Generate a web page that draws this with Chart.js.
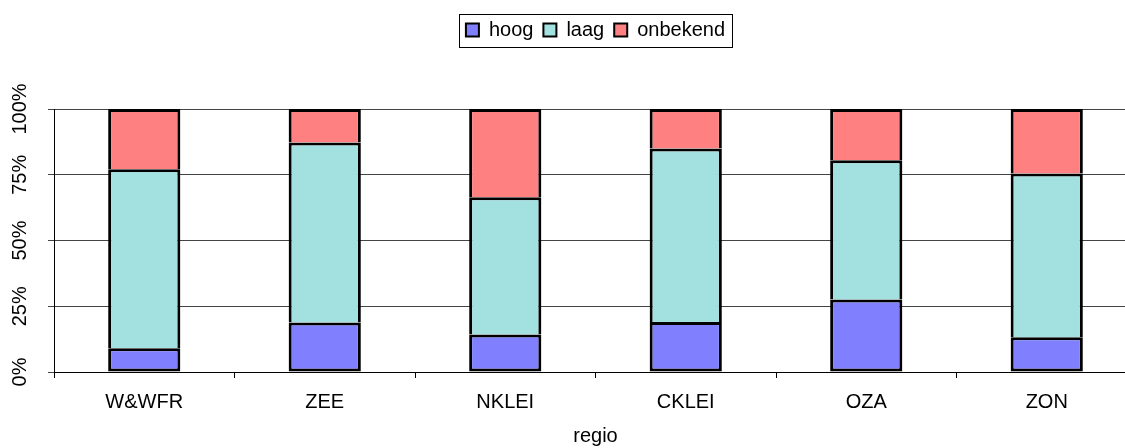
<!DOCTYPE html>
<html>
<head>
<meta charset="utf-8">
<script src="https://cdn.jsdelivr.net/npm/chart.js@4"></script>
<style>
  html, body { margin: 0; padding: 0; overflow: hidden; background: #fff; }
  #wrap { width: 1140px; height: 448px; }
</style>
</head>
<body>
<div id="wrap"><canvas id="c" width="1140" height="448"></canvas></div>
<script>
// Share per regio (percent of total)
const categories = ['W&WFR', 'ZEE', 'NKLEI', 'CKLEI', 'OZA', 'ZON'];
const hoog     = [9.0, 18.8, 14.3, 19.0, 27.6, 13.2];
const laag     = [68.1, 68.5, 52.1, 66.0, 52.9, 62.3];
const onbekend = [22.9, 12.7, 33.6, 15.0, 19.5, 24.5];
const yTicks   = [0, 25, 50, 75, 100];

const FONT = "'Liberation Sans', Arial, sans-serif";
Chart.defaults.font.family = FONT;
Chart.defaults.color = '#000';

// Legend sits in a tall band above the plot, centred on the plot area, with a frame
const legendFrame = {
  id: 'legendFrame',
  beforeLayout(chart) {
    const lg = chart.legend;
    if (lg && !lg._tallFit) {
      const fit = lg.fit.bind(lg);
      lg.fit = function () { fit(); this.height = 99; };
      lg._tallFit = true;
    }
  },
  afterLayout(chart) {
    const lg = chart.legend, ca = chart.chartArea;
    lg.left = ca.left; lg.right = ca.right; lg.width = ca.right - ca.left;
  },
  afterDraw(chart) {
    const hb = chart.legend.legendHitBoxes;
    if (!hb || !hb.length) return;
    const first = hb[0], last = hb[hb.length - 1];
    const cy = first.top + first.height / 2;
    const x0 = Math.round(first.left - 7) + 0.5;
    const x1 = Math.round(last.left + last.width + 7) + 0.5;
    const y0 = Math.round(cy - 16.5) + 0.5;
    const y1 = Math.round(cy + 16.5) + 0.5;
    const ctx = chart.ctx;
    ctx.save();
    ctx.strokeStyle = '#000';
    ctx.lineWidth = 1;
    ctx.strokeRect(x0, y0, x1 - x0, y1 - y0);
    ctx.restore();
  }
};

new Chart(document.getElementById('c'), {
  type: 'bar',
  data: {
    labels: categories,
    datasets: [
      { label: 'hoog', data: hoog, backgroundColor: '#8080FF', borderColor: '#000', borderWidth: 3, borderSkipped: false },
      { label: 'laag', data: laag, backgroundColor: '#A3E0E0', borderColor: '#000', borderWidth: 3, borderSkipped: 'start' },
      { label: 'onbekend', data: onbekend, backgroundColor: '#FF8080', borderColor: '#000', borderWidth: 3, borderSkipped: 'start' }
    ]
  },
  options: {
    responsive: false,
    animation: false,
    layout: { padding: { top: 10, right: 3, left: 0, bottom: 0 } },
    datasets: { bar: { barPercentage: 0.4, categoryPercentage: 1.0 } },
    plugins: {
      tooltip: { enabled: false },
      legend: {
        position: 'top',
        align: 'center',
        labels: {
          boxWidth: 13, boxHeight: 13, padding: 10,
          font: { size: 20, family: FONT }, color: '#000',
          generateLabels(chart) {
            return Chart.defaults.plugins.legend.labels.generateLabels(chart).map(l => ({ ...l, lineWidth: 2 }));
          }
        }
      }
    },
    scales: {
      x: {
        stacked: true,
        offset: true,
        grid: { offset: true, drawOnChartArea: false, drawTicks: true, tickLength: 6, color: '#000', lineWidth: 1 },
        border: { color: '#000', width: 1 },
        ticks: { font: { size: 20, family: FONT }, color: '#000', padding: 12, maxRotation: 0, minRotation: 0 },
        title: { display: true, text: 'regio', font: { size: 20, family: FONT }, color: '#000', padding: { top: 0, bottom: 0 } },
        afterFit(s) { s.height = 76; }
      },
      y: {
        stacked: true,
        min: 0, max: 100,
        afterBuildTicks(s) { s.ticks = yTicks.map(v => ({ value: v })); },
        grid: { color: '#444', lineWidth: 1, tickLength: 6, drawTicks: true },
        border: { color: '#000', width: 1 },
        ticks: {
          font: { size: 20, family: FONT }, color: '#000',
          minRotation: 90, maxRotation: 90,
          crossAlign: 'center', padding: 2,
          callback: v => v + '%'
        },
        afterFit(s) { s.width = 54; }
      }
    }
  },
  plugins: [legendFrame]
});
</script>
</body>
</html>
